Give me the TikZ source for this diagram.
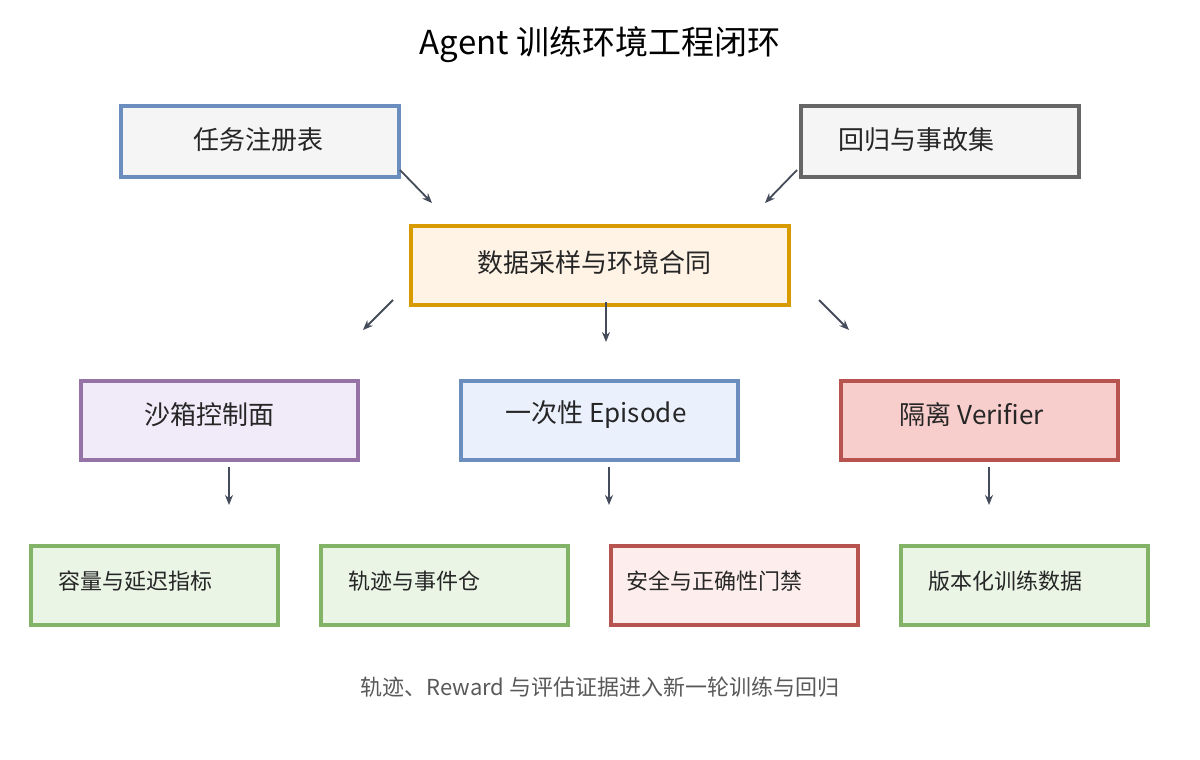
\documentclass[tikz,border=0pt]{standalone}
\usepackage{fontspec}
\setmainfont{Noto Sans CJK SC}
\usetikzlibrary{arrows.meta}
\definecolor{boxgray}{HTML}{F5F5F5}
\definecolor{bluebd}{HTML}{6C8EBF}
\definecolor{graybd}{HTML}{666666}
\definecolor{orangebg}{HTML}{FFF3E6}
\definecolor{orangebd}{HTML}{D79B00}
\definecolor{purplebg}{HTML}{F1EAF8}
\definecolor{purplebd}{HTML}{9673A6}
\definecolor{bluebg}{HTML}{EAF1FD}
\definecolor{redbg}{HTML}{F8CECC}
\definecolor{redbd}{HTML}{B85450}
\definecolor{greenbg}{HTML}{EAF5E6}
\definecolor{greenbd}{HTML}{82B366}
\definecolor{pinkbg}{HTML}{FDEEED}
\definecolor{arrowc}{HTML}{444B5A}
\begin{document}
\begin{tikzpicture}[x=1pt,y=-1pt,>={Stealth[length=10pt,width=8pt]},
  box/.style={draw,line width=3.5pt,inner sep=0pt},
  lbl/.style={font=\fontsize{26}{30}\selectfont,text=black!85},
  small/.style={font=\fontsize{22}{26}\selectfont,text=black!85,anchor=west},
  arr/.style={->,draw=arrowc,line width=1.8pt}]
\useasboundingbox (0,0) rectangle (1200,760);

% title
\node[font=\fontsize{33}{38}\selectfont] (title) at (600,45) {Agent 训练环境工程闭环};

% sources
\draw[box,draw=bluebd,fill=boxgray] (121,106) rectangle (399,177);
\node[lbl] (reg) at (258,140) {任务注册表};
\draw[box,draw=graybd,fill=boxgray] (801,106) rectangle (1079,177);
\node[lbl] (reg2) at (916,140) {回归与事故集};

% contract
\draw[box,draw=orangebd,fill=orangebg] (411,226) rectangle (789,305);
\node[lbl] (contract) at (594,263) {数据采样与环境合同};

% middle row
\draw[box,draw=purplebd,fill=purplebg] (81,381) rectangle (358,460);
\node[lbl] (sandbox) at (209,415) {沙箱控制面};
\draw[box,draw=bluebd,fill=bluebg] (461,381) rectangle (738,460);
\node[lbl] (episode) at (596,415) {一次性 Episode};
\draw[box,draw=redbd,fill=redbg] (841,381) rectangle (1118,460);
\node[lbl] (verifier) at (972,415) {隔离 Verifier};

% bottom row
\draw[box,draw=greenbd,fill=greenbg] (31,546) rectangle (278,625);
\node[small] (cap) at (55,581) {容量与延迟指标};
\draw[box,draw=greenbd,fill=greenbg] (321,546) rectangle (568,625);
\node[small] (trace) at (345,581) {轨迹与事件仓};
\draw[box,draw=redbd,fill=pinkbg] (611,546) rectangle (858,625);
\node[small] (gate) at (623,581) {安全与正确性门禁};
\draw[box,draw=greenbd,fill=greenbg] (901,546) rectangle (1148,625);
\node[small] (data) at (925,581) {版本化训练数据};

% footer
\node[font=\fontsize{22}{26}\selectfont,text=black!65] (foot) at (600,687) {轨迹、Reward 与评估证据进入新一轮训练与回归};

% arrows
\coordinate (a1) at (400,170); \coordinate (b1) at (432,203);
\coordinate (a2) at (797,170); \coordinate (b2) at (765,203);
\coordinate (a3) at (393,300); \coordinate (b3) at (363,330);
\coordinate (a4) at (606,302); \coordinate (b4) at (606,342);
\coordinate (a5) at (819,300); \coordinate (b5) at (849,330);
\coordinate (a6) at (229,467); \coordinate (b6) at (229,505);
\coordinate (a7) at (609,467); \coordinate (b7) at (609,505);
\coordinate (a8) at (989,467); \coordinate (b8) at (989,505);
\foreach \i in {1,...,8} \draw[arr] (a\i) -- (b\i);
\end{tikzpicture}
\end{document}
